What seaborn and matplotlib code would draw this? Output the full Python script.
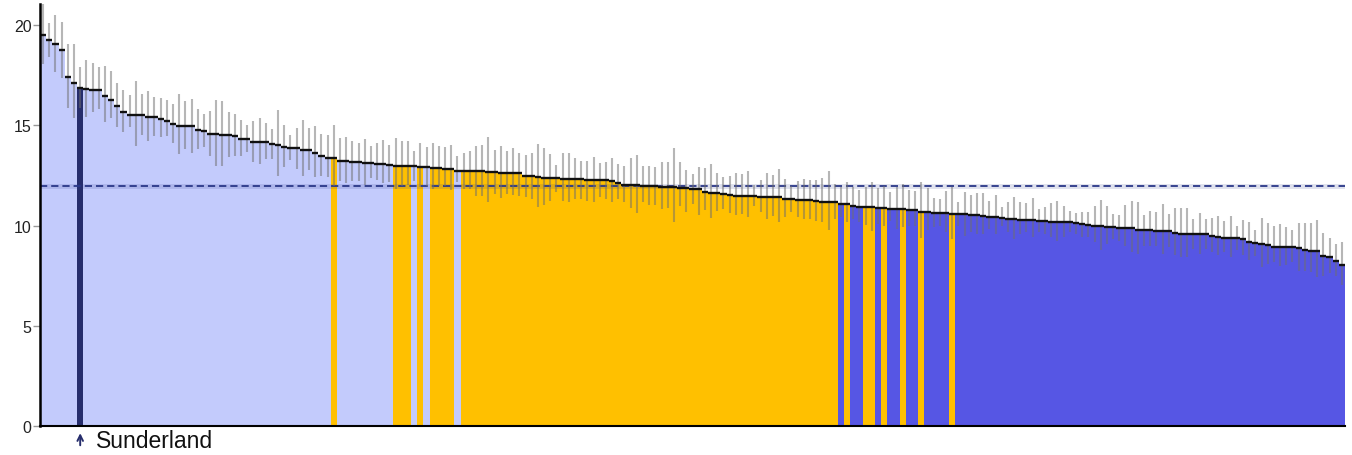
import numpy as np
import pandas as pd
import matplotlib
matplotlib.use("Agg")
import matplotlib.pyplot as plt
import seaborn as sns

# rate per area, sorted high -> low
rate = [
    19.52, 19.25, 19.07, 18.74, 17.41, 17.12, 16.86, 16.79, 16.78, 16.74,
    16.47, 16.27, 15.98, 15.68, 15.53, 15.53, 15.52, 15.43, 15.42, 15.30,
    15.20, 15.06, 14.98, 14.97, 14.95, 14.78, 14.70, 14.58, 14.55, 14.53,
    14.52, 14.45, 14.33, 14.32, 14.18, 14.18, 14.17, 14.05, 14.04, 13.90,
    13.89, 13.85, 13.78, 13.77, 13.63, 13.48, 13.38, 13.35, 13.23, 13.22,
    13.18, 13.17, 13.13, 13.10, 13.08, 13.07, 13.03, 12.98, 12.97, 12.95,
    12.95, 12.94, 12.92, 12.88, 12.87, 12.84, 12.83, 12.74, 12.73, 12.73,
    12.72, 12.72, 12.68, 12.67, 12.62, 12.62, 12.61, 12.60, 12.49, 12.48,
    12.42, 12.37, 12.37, 12.36, 12.34, 12.34, 12.33, 12.30, 12.29, 12.27,
    12.27, 12.26, 12.22, 12.14, 12.04, 12.04, 12.03, 11.99, 11.98, 11.95,
    11.94, 11.90, 11.90, 11.89, 11.85, 11.81, 11.80, 11.69, 11.64, 11.63,
    11.57, 11.52, 11.49, 11.49, 11.48, 11.46, 11.41, 11.41, 11.40, 11.40,
    11.32, 11.31, 11.27, 11.27, 11.26, 11.22, 11.17, 11.17, 11.16, 11.09,
    11.08, 10.99, 10.91, 10.91, 10.90, 10.87, 10.86, 10.81, 10.81, 10.80,
    10.76, 10.75, 10.69, 10.68, 10.64, 10.64, 10.63, 10.57, 10.57, 10.56,
    10.52, 10.51, 10.47, 10.44, 10.43, 10.37, 10.34, 10.33, 10.29, 10.29,
    10.28, 10.22, 10.21, 10.19, 10.19, 10.18, 10.16, 10.11, 10.06, 10.01,
    10.00, 9.96, 9.95, 9.93, 9.89, 9.86, 9.86, 9.79, 9.79, 9.78,
    9.73, 9.73, 9.72, 9.64, 9.58, 9.58, 9.57, 9.57, 9.56, 9.49,
    9.43, 9.38, 9.38, 9.37, 9.33, 9.19, 9.14, 9.06, 9.01, 8.94,
    8.94, 8.93, 8.93, 8.86, 8.78, 8.74, 8.74, 8.48, 8.43, 8.24,
    8.05,
]

ci_lo = [
    18.05, 18.39, 17.67, 17.34, 15.85, 15.36, 15.85, 15.40, 15.65, 15.81,
    15.15, 15.36, 14.93, 14.65, 14.93, 13.98, 14.53, 14.23, 14.48, 14.40,
    14.48, 14.11, 13.57, 13.82, 13.62, 13.82, 13.90, 13.48, 12.98, 12.95,
    13.40, 13.48, 13.48, 13.65, 13.15, 13.07, 13.32, 13.32, 12.48, 12.90,
    13.28, 12.82, 12.48, 12.78, 12.40, 12.45, 12.40, 11.99, 12.23, 12.12,
    12.23, 12.23, 12.02, 12.35, 12.28, 12.12, 12.15, 11.82, 11.95, 12.02,
    12.23, 11.90, 11.95, 11.82, 11.95, 11.95, 11.79, 12.15, 11.82, 11.82,
    11.49, 11.49, 11.16, 11.57, 11.36, 11.57, 11.52, 11.49, 11.41, 11.32,
    10.91, 11.02, 11.24, 11.69, 11.24, 11.19, 11.32, 11.32, 11.24, 11.16,
    11.41, 11.32, 11.16, 11.32, 11.16, 10.86, 10.61, 11.16, 11.02, 11.02,
    10.82, 10.86, 10.16, 10.96, 10.69, 11.07, 10.52, 10.77, 10.36, 10.74,
    10.82, 10.62, 10.52, 10.57, 10.41, 10.99, 10.69, 10.32, 10.49, 10.16,
    10.41, 10.69, 10.44, 10.32, 10.32, 10.24, 10.16, 9.79, 10.32, 10.41,
    10.16, 10.32, 10.16, 10.02, 9.74, 10.07, 9.99, 10.24, 9.83, 9.91,
    9.99, 9.99, 9.36, 9.79, 9.91, 9.99, 9.66, 9.33, 9.99, 9.49,
    9.66, 9.58, 9.58, 9.83, 9.58, 9.96, 9.66, 9.33, 9.58, 9.66,
    9.41, 9.66, 9.58, 9.41, 9.24, 9.41, 9.66, 9.58, 9.41, 9.41,
    9.16, 8.79, 9.08, 9.33, 9.24, 8.99, 8.69, 8.58, 8.99, 8.96,
    8.99, 8.58, 8.91, 8.53, 8.41, 8.41, 8.83, 8.58, 8.83, 8.66,
    8.53, 8.66, 8.41, 8.79, 8.53, 8.29, 8.49, 7.92, 8.08, 8.19,
    7.97, 8.03, 8.16, 7.75, 7.75, 7.67, 7.42, 7.50, 7.63, 7.50,
    7.03,
]

ci_hi = [
    21.30, 20.10, 20.50, 20.13, 19.05, 19.05, 17.92, 18.25, 18.09, 17.92,
    17.94, 17.72, 17.09, 16.76, 16.52, 17.22, 16.56, 16.69, 16.39, 16.34,
    16.27, 16.06, 16.56, 16.19, 16.31, 15.81, 15.56, 15.73, 16.27, 16.22,
    15.68, 15.56, 15.28, 15.03, 15.23, 15.35, 15.11, 14.81, 15.76, 15.01,
    14.53, 14.86, 15.26, 14.85, 14.95, 14.56, 14.51, 15.01, 14.35, 14.43,
    14.23, 14.10, 14.31, 13.95, 14.11, 14.25, 14.03, 14.35, 14.21, 14.20,
    13.73, 14.11, 13.90, 14.10, 13.95, 13.93, 14.01, 13.45, 13.62, 13.70,
    13.98, 14.01, 14.40, 13.77, 13.98, 13.70, 13.85, 13.62, 13.52, 13.62,
    14.06, 13.87, 13.57, 13.02, 13.60, 13.62, 13.37, 13.20, 13.23, 13.40,
    13.10, 13.15, 13.35, 13.07, 12.98, 13.35, 13.53, 12.95, 12.98, 12.93,
    13.15, 13.15, 13.87, 13.18, 12.78, 12.57, 12.90, 12.87, 13.07, 12.62,
    12.43, 12.48, 12.60, 12.55, 12.70, 12.02, 12.28, 12.62, 12.52, 12.82,
    12.32, 11.99, 12.23, 12.32, 12.28, 12.28, 12.37, 12.70, 12.07, 11.90,
    12.18, 11.90, 11.77, 11.90, 12.18, 11.87, 11.99, 11.69, 11.90, 12.07,
    11.79, 11.74, 12.18, 11.85, 11.36, 11.32, 11.74, 11.90, 11.16, 11.69,
    11.54, 11.62, 11.62, 11.24, 11.52, 10.91, 11.16, 11.41, 11.19, 11.12,
    11.36, 10.82, 10.91, 11.11, 11.21, 10.99, 10.71, 10.61, 10.66, 10.69,
    10.99, 11.27, 10.96, 10.57, 10.52, 11.02, 11.21, 11.16, 10.52, 10.71,
    10.66, 11.07, 10.57, 10.87, 10.87, 10.87, 10.32, 10.62, 10.32, 10.36,
    10.49, 10.21, 10.46, 9.96, 10.29, 10.16, 9.79, 10.36, 10.12, 9.99,
    10.07, 9.91, 9.78, 10.12, 10.12, 10.11, 10.27, 9.61, 9.36, 9.08,
    9.16,
]

# group of each bar, as runs in bar order (L = light blue, O = orange, B = blue)
group_runs = [
    ("L", 47), ("O", 1), ("L", 9), ("O", 3), ("L", 1), ("O", 1), ("L", 1),
    ("O", 4), ("L", 1), ("O", 61), ("B", 1), ("O", 1), ("B", 2), ("O", 2),
    ("B", 1), ("O", 1), ("B", 2), ("O", 1), ("B", 2), ("O", 1), ("B", 4),
    ("O", 1), ("B", 63),
]

average = 11.95
highlight_pos = 6
highlight_name = "Sunderland"

palette = {"L": "#C3CBFC", "O": "#FFC000", "B": "#5656E4", "S": "#262D6C"}

group = [g for g, n in group_runs for _ in range(n)]
df = pd.DataFrame({"pos": np.arange(len(rate)), "rate": rate,
                   "lo": ci_lo, "hi": ci_hi, "group": group})
df["colour"] = df["group"]
df.loc[highlight_pos, "colour"] = "S"

plt.rcParams["font.family"] = ["Liberation Sans", "DejaVu Sans"]

fig = plt.figure(figsize=(13.52, 4.56), dpi=100)
ax = fig.add_axes([40 / 1352, 29 / 456, 1305 / 1352, 422 / 456])

sns.barplot(data=df, x="pos", y="rate", hue="colour", palette=palette,
            dodge=False, width=1.0, saturation=1, errorbar=None,
            legend=False, linewidth=0, ax=ax)
# no antialiasing on the bars, otherwise thin seams show between them
for p in ax.patches:
    p.set_antialiased(False)
    p.set_edgecolor("none")

# average line
ax.axhline(average, color="#2A3788", alpha=0.15, lw=3.5, zorder=3)
ax.axhline(average, color="#2A3788", lw=1.3, dashes=(4.0, 2.2), zorder=4)

# confidence intervals
ax.vlines(df["pos"], df["lo"], df["hi"], color="#6E6E6E", alpha=0.5,
          lw=1.5, zorder=5)

# black cap on top of each bar
ax.hlines(df["rate"], df["pos"] - 0.5, df["pos"] + 0.5,
          color="#111111", lw=1.7, zorder=6)

ax.set_xlim(-0.5, len(df) - 0.5)
ax.set_ylim(0, 21.05)
ax.set_yticks([0, 5, 10, 15, 20])
ax.set_xticks([])
ax.set_xlabel("")
ax.set_ylabel("")
ax.tick_params(axis="y", length=5, width=1, color="#999999",
               labelsize=11.5, labelcolor="#222222", pad=1)
for s in ["top", "right"]:
    ax.spines[s].set_visible(False)
ax.spines["left"].set_linewidth(1.8)
ax.spines["bottom"].set_linewidth(1.5)
ax.spines["left"].set_zorder(7)

ax.annotate("", xy=(highlight_pos, -0.22), xytext=(highlight_pos, -1.1),
            arrowprops=dict(arrowstyle="->", color="#262D6C", lw=1.4),
            annotation_clip=False)
ax.text(highlight_pos + 2.55, -0.72, highlight_name, fontsize=16.5,
        color="#111111", va="center", ha="left", clip_on=False)

fig.savefig("out.png", dpi=100)
